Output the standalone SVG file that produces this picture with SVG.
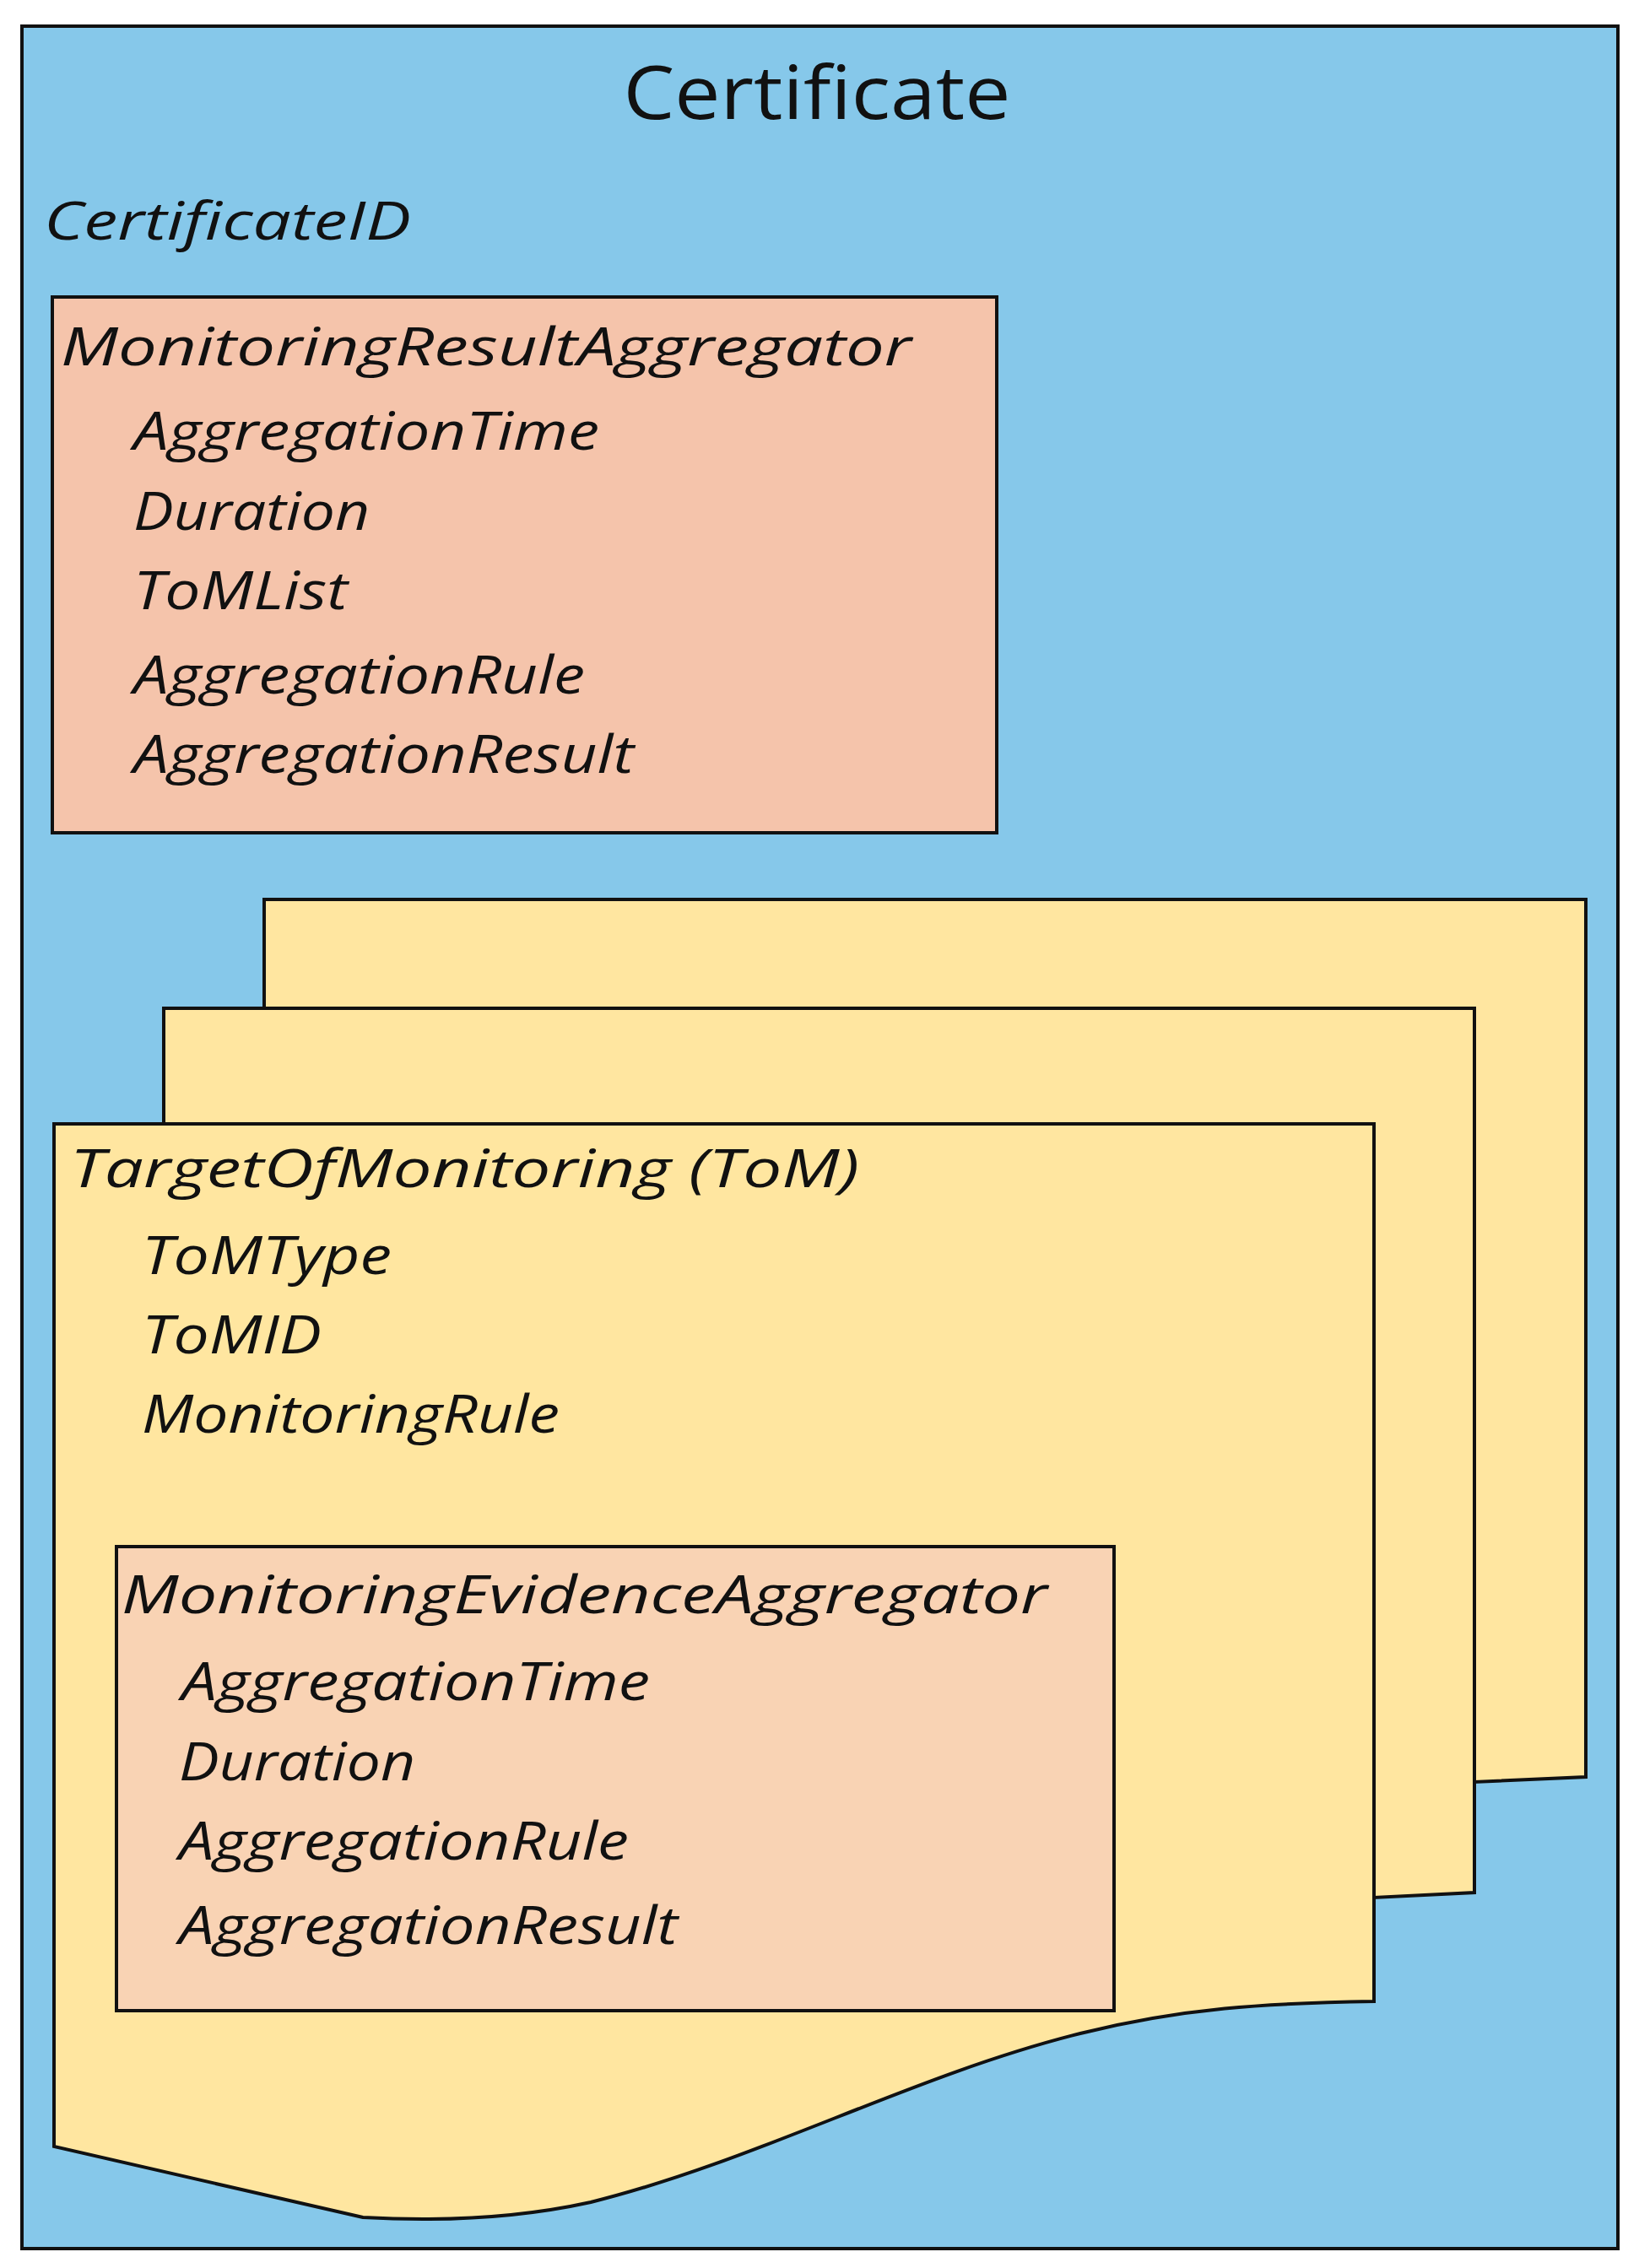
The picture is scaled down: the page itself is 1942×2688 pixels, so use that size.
<svg xmlns="http://www.w3.org/2000/svg" width="1942" height="2688" viewBox="0 0 1942 2688">
<style>
text{font-family:"Open Sans","Liberation Sans",sans-serif;fill:#111}
.i{font-style:italic;font-size:62px}
.s{stroke:#111;stroke-width:4}
</style>
<rect width="1942" height="2688" fill="#fff"/>
<g id="certificate">
<rect x="26" y="31" width="1891" height="2634" fill="#86C8EA" class="s"/>
<text x="968" y="141" font-size="88" text-anchor="middle" textLength="459" lengthAdjust="spacingAndGlyphs">Certificate</text>
<text class="i" x="52" y="284" textLength="435" lengthAdjust="spacingAndGlyphs">CertificateID</text>
</g>
<g id="mra">
<rect x="62" y="352" width="1119" height="635" fill="#F5C4AB" class="s"/>
<text class="i" x="72" y="433" textLength="1008" lengthAdjust="spacingAndGlyphs">MonitoringResultAggregator</text>
<text class="i" x="158" y="533" textLength="552" lengthAdjust="spacingAndGlyphs">AggregationTime</text>
<text class="i" x="158" y="628" textLength="280" lengthAdjust="spacingAndGlyphs">Duration</text>
<text class="i" x="158" y="722" textLength="254" lengthAdjust="spacingAndGlyphs">ToMList</text>
<text class="i" x="158" y="822" textLength="535" lengthAdjust="spacingAndGlyphs">AggregationRule</text>
<text class="i" x="158" y="916" textLength="593" lengthAdjust="spacingAndGlyphs">AggregationResult</text>
</g>
<g id="tom-back">
<path d="M313 1066 H1879 V2106 L1747 2112 V1195 H313 Z" fill="#FFE6A0" class="s" stroke-linejoin="miter"/>
</g>
<g id="tom-mid">
<path d="M194 1195 H1747 V2243 L1628 2249 V1332 H194 Z" fill="#FFE6A0" class="s"/>
</g>
<g id="tom">
<path d="M64 1332 H1628 V2372 C1500 2374 1400 2380 1280 2410 C1080 2460 900 2560 700 2610 C600 2632 500 2632 430 2628 L64 2544 Z" fill="#FFE6A0" class="s"/>
<text class="i" x="83" y="1407" textLength="935" lengthAdjust="spacingAndGlyphs">TargetOfMonitoring (ToM)</text>
<text class="i" x="168" y="1510" textLength="296" lengthAdjust="spacingAndGlyphs">ToMType</text>
<text class="i" x="168" y="1604" textLength="213" lengthAdjust="spacingAndGlyphs">ToMID</text>
<text class="i" x="168" y="1698" textLength="495" lengthAdjust="spacingAndGlyphs">MonitoringRule</text>
</g>
<g id="mea">
<rect x="138" y="1833" width="1182" height="550" fill="#F9D3B4" class="s"/>
<text class="i" x="144" y="1912" textLength="1097" lengthAdjust="spacingAndGlyphs">MonitoringEvidenceAggregator</text>
<text class="i" x="215" y="2015" textLength="555" lengthAdjust="spacingAndGlyphs">AggregationTime</text>
<text class="i" x="212" y="2110" textLength="280" lengthAdjust="spacingAndGlyphs">Duration</text>
<text class="i" x="212" y="2204" textLength="533" lengthAdjust="spacingAndGlyphs">AggregationRule</text>
<text class="i" x="212" y="2304" textLength="591" lengthAdjust="spacingAndGlyphs">AggregationResult</text>
</g>
<g id="connectors"/>
</svg>
